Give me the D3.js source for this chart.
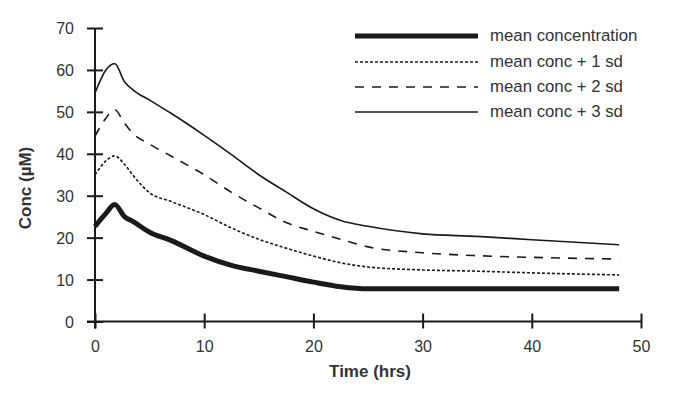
<!DOCTYPE html>
<html>
<head>
<meta charset="utf-8">
<script src="https://cdn.jsdelivr.net/npm/d3@7"></script>
<style>
  html, body { margin: 0; padding: 0; background: #fff; }
  svg { display: block; }
  text { font-family: "Liberation Sans", Arial, Helvetica, sans-serif; fill: #333; }
</style>
</head>
<body>
<svg id="chart" width="675" height="393"></svg>
<script>
const times = [0, 1, 1.8, 2.7, 3.5, 5, 7, 10, 12.5, 15, 17.5, 20, 22.5, 25, 30, 35, 40, 48];
const meanConc = [22.7, 25.8, 27.9, 25.0, 23.8, 21.3, 19.3, 15.6, 13.4, 12.0, 10.7, 9.4, 8.3, 7.8, 7.8, 7.8, 7.8, 7.8];
const plus1sd  = [35.0, 38.3, 39.5, 37.5, 34.8, 30.7, 28.6, 25.5, 22.3, 19.6, 17.5, 15.6, 14.0, 13.0, 12.3, 12.0, 11.6, 11.1];
const plus2sd  = [44.2, 48.5, 50.5, 47.3, 44.8, 42.3, 39.4, 35.0, 30.8, 27.1, 23.6, 21.5, 19.6, 17.8, 16.4, 15.7, 15.3, 14.9];
const plus3sd  = [54.5, 60.0, 61.5, 57.2, 55.2, 52.8, 49.6, 44.4, 39.8, 35.0, 30.9, 26.9, 24.1, 22.7, 20.9, 20.3, 19.5, 18.3];
const seriesNames = ["mean concentration", "mean conc + 1 sd", "mean conc + 2 sd", "mean conc + 3 sd"];
const xTicks = [0, 10, 20, 30, 40, 50];
const yTicks = [0, 10, 20, 30, 40, 50, 60, 70];
const xTitle = "Time (hrs)";
const yTitle = "Conc (\u00B5M)";

const seriesValues = [meanConc, plus1sd, plus2sd, plus3sd];
const styles = [
  { w: 5, dash: null },
  { w: 1.6, dash: "3,2" },
  { w: 1.6, dash: "9,8" },
  { w: 1.6, dash: null }
];

const svg = d3.select("#chart");
const x = d3.scaleLinear().domain([0, 50]).range([95, 641]);
const y = d3.scaleLinear().domain([0, 70]).range([321.5, 28]);
const ink = "#1a1a1a";

// axes
const xAxis = svg.append("g").attr("transform", "translate(0," + y(0) + ")")
  .call(d3.axisBottom(x).tickValues(xTicks).tickSize(7).tickPadding(0).tickFormat(d3.format("d")));
xAxis.select(".domain").remove();
xAxis.selectAll(".tick line").attr("y1", -8).attr("y2", 7).attr("stroke", ink).attr("stroke-width", 2);
xAxis.selectAll(".tick text").attr("y", 30).attr("dy", null).attr("font-size", 16).style("fill", "#333");

const yAxis = svg.append("g").attr("transform", "translate(" + x(0) + ",0)")
  .call(d3.axisLeft(y).tickValues(yTicks).tickSize(8).tickPadding(0).tickFormat(d3.format("d")));
yAxis.select(".domain").remove();
yAxis.selectAll(".tick line").attr("x1", 8).attr("x2", -8).attr("stroke", ink).attr("stroke-width", 2);
yAxis.selectAll(".tick text").attr("x", -21).attr("dy", "0.36em").attr("font-size", 16).style("fill", "#333");

svg.append("line").attr("x1", x(0) - 8).attr("x2", x(50)).attr("y1", y(0)).attr("y2", y(0))
  .attr("stroke", ink).attr("stroke-width", 2);
svg.append("line").attr("x1", x(0)).attr("x2", x(0)).attr("y1", y(70)).attr("y2", y(0) + 7)
  .attr("stroke", ink).attr("stroke-width", 2);

// titles
svg.append("text").attr("x", 370).attr("y", 377).attr("text-anchor", "middle")
  .attr("font-size", 17).attr("font-weight", "bold").text(xTitle);
svg.append("text").attr("transform", "translate(31,188) rotate(-90)").attr("text-anchor", "middle")
  .attr("font-size", 17).attr("font-weight", "bold").text(yTitle);

// lines
const line = d3.line().x((d, i) => x(times[i])).y(d => y(d)).curve(d3.curveMonotoneX);
seriesValues.forEach((vals, k) => {
  svg.append("path").datum(vals).attr("d", line)
    .attr("fill", "none").attr("stroke", ink).attr("stroke-width", styles[k].w)
    .attr("stroke-dasharray", styles[k].dash).attr("stroke-linejoin", "round");
});

// legend
const legY = [36, 62, 87, 112];
seriesNames.forEach((name, k) => {
  svg.append("line").attr("x1", 355).attr("x2", 478).attr("y1", legY[k]).attr("y2", legY[k])
    .attr("stroke", ink).attr("stroke-width", styles[k].w).attr("stroke-dasharray", styles[k].dash);
  svg.append("text").attr("x", 490).attr("y", legY[k]).attr("dy", "0.3em")
    .attr("font-size", 16.8).text(name);
});
</script>
</body>
</html>
